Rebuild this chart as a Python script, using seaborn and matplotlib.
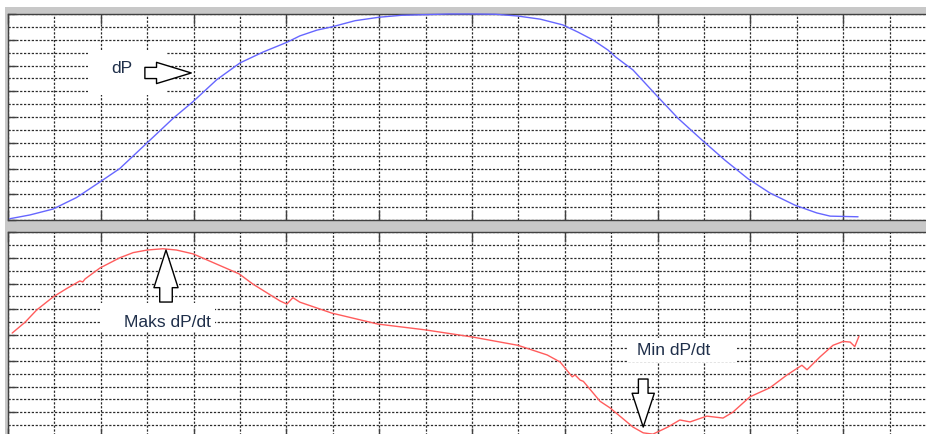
import matplotlib
matplotlib.use("Agg")
import matplotlib.pyplot as plt
from matplotlib.patches import Rectangle
import seaborn as sns
import pandas as pd

# ---- data (grid units: x = major divisions, y = 0..16 divisions) ----
dp_x = [0.04, 0.47, 0.97, 1.48, 1.98, 2.41, 3.0, 3.56, 3.99, 4.5, 5.0, 5.5, 6.01, 6.29, 6.66,
        6.98, 7.48, 8.0, 8.48, 8.99, 9.5, 10.0, 10.5, 10.97, 11.47, 11.96, 12.28, 12.6, 12.93,
        13.1, 13.47, 13.97, 14.44, 14.96, 15.45, 15.95, 16.42, 16.96, 17.43, 17.72, 18.32]
dp_y = [0.1, 0.39, 0.85, 1.75, 2.95, 4.0, 6.0, 7.9, 9.2, 10.9, 12.2, 13.05, 13.8, 14.3, 14.75,
        15.0, 15.48, 15.75, 15.9, 15.95, 16.0, 16.0, 15.98, 15.85, 15.6, 15.15, 14.6, 14.0, 13.2,
        12.65, 11.65, 9.7, 7.9, 6.2, 4.65, 3.2, 2.1, 1.15, 0.55, 0.3, 0.25]

dpdt_x = [0.09, 0.37, 0.62, 0.97, 1.26, 1.55, 1.61, 1.66, 1.98, 2.41, 2.7, 3.0, 3.34, 3.63,
          3.99, 4.5, 4.98, 5.28, 5.86, 6.01, 6.14, 6.29, 6.98, 7.97, 8.99, 10.0, 10.99, 11.62,
          11.9, 12.16, 12.22, 12.33, 12.4, 12.76, 12.97, 13.47, 13.69, 13.9, 14.22, 14.48, 14.7,
          15.06, 15.41, 15.62, 15.99, 16.42, 16.79, 17.11, 17.22, 17.5, 17.78, 18.0, 18.15,
          18.25, 18.34]
dpdt_y = [8.15, 9.0, 9.95, 10.95, 11.6, 12.2, 12.12, 12.35, 13.2, 14.0, 14.4, 14.6, 14.7, 14.6,
          14.3, 13.5, 12.75, 11.95, 10.65, 10.4, 10.9, 10.55, 9.7, 8.85, 8.4, 7.85, 7.2, 6.45,
          5.9, 4.75, 4.9, 4.5, 4.4, 2.85, 2.35, 0.85, 0.4, 0.3, 0.85, 1.4, 1.25,
          1.7, 1.55, 2.0, 3.2, 3.9, 4.9, 5.65, 5.3, 6.3, 7.2, 7.5, 7.45,
          7.1, 7.9]

labels = ["dP", "Maks dP/dt", "Min dP/dt"]

# ---- figure ----
sns.set_style("white")
plt.rcParams['font.family'] = ['Liberation Sans', 'DejaVu Sans']
W, H = 926, 434
fig = plt.figure(figsize=(W / 100, H / 100), dpi=100)
fig.patches.append(Rectangle((5 / W, 0), 1 - 5 / W, (H - 7) / H, transform=fig.transFigure,
                             facecolor='#c8c8c8', edgecolor='none', zorder=-5))

ax1 = fig.add_axes([8 / W, (H - 220) / H, 928 / W, 206 / H])
ax2 = fig.add_axes([8 / W, (H - 438) / H, 928 / W, 206 / H])

grid_col = '#2a2a2a'
for ax in (ax1, ax2):
    ax.set_facecolor('white')
    ax.set_xlim(0, 20)
    ax.set_ylim(0, 16)
    ax.set_xticks(range(0, 21, 2))
    ax.set_xticks(range(0, 21), minor=True)
    ax.set_yticks(range(0, 17, 2))
    ax.set_yticks(range(0, 17), minor=True)
    ax.tick_params(which='major', axis='x', direction='in', length=7, width=1,
                   top=True, bottom=True, color='#404040',
                   labelbottom=False, labeltop=False)
    ax.tick_params(which='major', axis='y', direction='in', length=6, width=1,
                   left=True, right=False, color='#404040',
                   labelleft=False)
    ax.tick_params(which='minor', length=0)
    ax.grid(which='both', linestyle=(0, (1.8, 1.3)), color=grid_col, linewidth=0.9)
    ax.set_axisbelow(True)
    for s in ax.spines.values():
        s.set_color('#404040')
        s.set_linewidth(1.0)

df1 = pd.DataFrame({"x": dp_x, "y": dp_y})
df2 = pd.DataFrame({"x": dpdt_x, "y": dpdt_y})
sns.lineplot(data=df1, x="x", y="y", ax=ax1, color='#6666ff', linewidth=1.0, sort=False,
             estimator=None, zorder=5, clip_on=False)
sns.lineplot(data=df2, x="x", y="y", ax=ax2, color='#ff5c5c', linewidth=1.0, sort=False,
             estimator=None, zorder=5)
for ax in (ax1, ax2):
    ax.set_xlabel("")
    ax.set_ylabel("")
    ax.set_xlim(0, 20)
    ax.set_ylim(0, 16)

txt_col = '#1f2f4a'
fs = 12.5

# dP label + arrow (top panel)
ax1.add_patch(Rectangle((1.72, 9.71), 1.71, 3.49, facecolor='white', edgecolor='none', zorder=3))
ax1.text(2.46, 11.8, labels[0], ha='center', va='center', fontsize=fs, color=txt_col, zorder=6)
ax1.annotate('', xy=(3.95, 11.42), xytext=(2.95, 11.42),
             arrowprops=dict(arrowstyle='simple,head_length=1.8,head_width=1.1,tail_width=0.58',
                             mutation_scale=13.9, facecolor='white', edgecolor='black',
                             linewidth=1.0, shrinkA=0, shrinkB=0), zorder=6)

# Maks dP/dt (bottom panel)
ax2.add_patch(Rectangle((1.98, 8.23), 2.48, 2.26, facecolor='white', edgecolor='none', zorder=3))
ax2.text(3.43, 9.0, labels[1], ha='center', va='center', fontsize=fs, color=txt_col, zorder=6)
ax2.annotate('', xy=(3.405, 14.6), xytext=(3.405, 10.56),
             arrowprops=dict(arrowstyle='simple,head_length=1.95,head_width=1.25,tail_width=0.65',
                             mutation_scale=13.9, facecolor='white', edgecolor='black',
                             linewidth=1.0, shrinkA=0, shrinkB=0), zorder=6)

# Min dP/dt (bottom panel)
ax2.add_patch(Rectangle((13.34, 5.9), 2.37, 1.87, facecolor='white', edgecolor='none', zorder=3))
ax2.text(14.35, 6.83, labels[2], ha='center', va='center', fontsize=fs, color=txt_col, zorder=6)
ax2.annotate('', xy=(13.69, 0.85), xytext=(13.69, 4.58),
             arrowprops=dict(arrowstyle='simple,head_length=1.75,head_width=1.15,tail_width=0.5',
                             mutation_scale=13.9, facecolor='white', edgecolor='black',
                             linewidth=1.0, shrinkA=0, shrinkB=0), zorder=6)

fig.savefig('out.png', dpi=100)
